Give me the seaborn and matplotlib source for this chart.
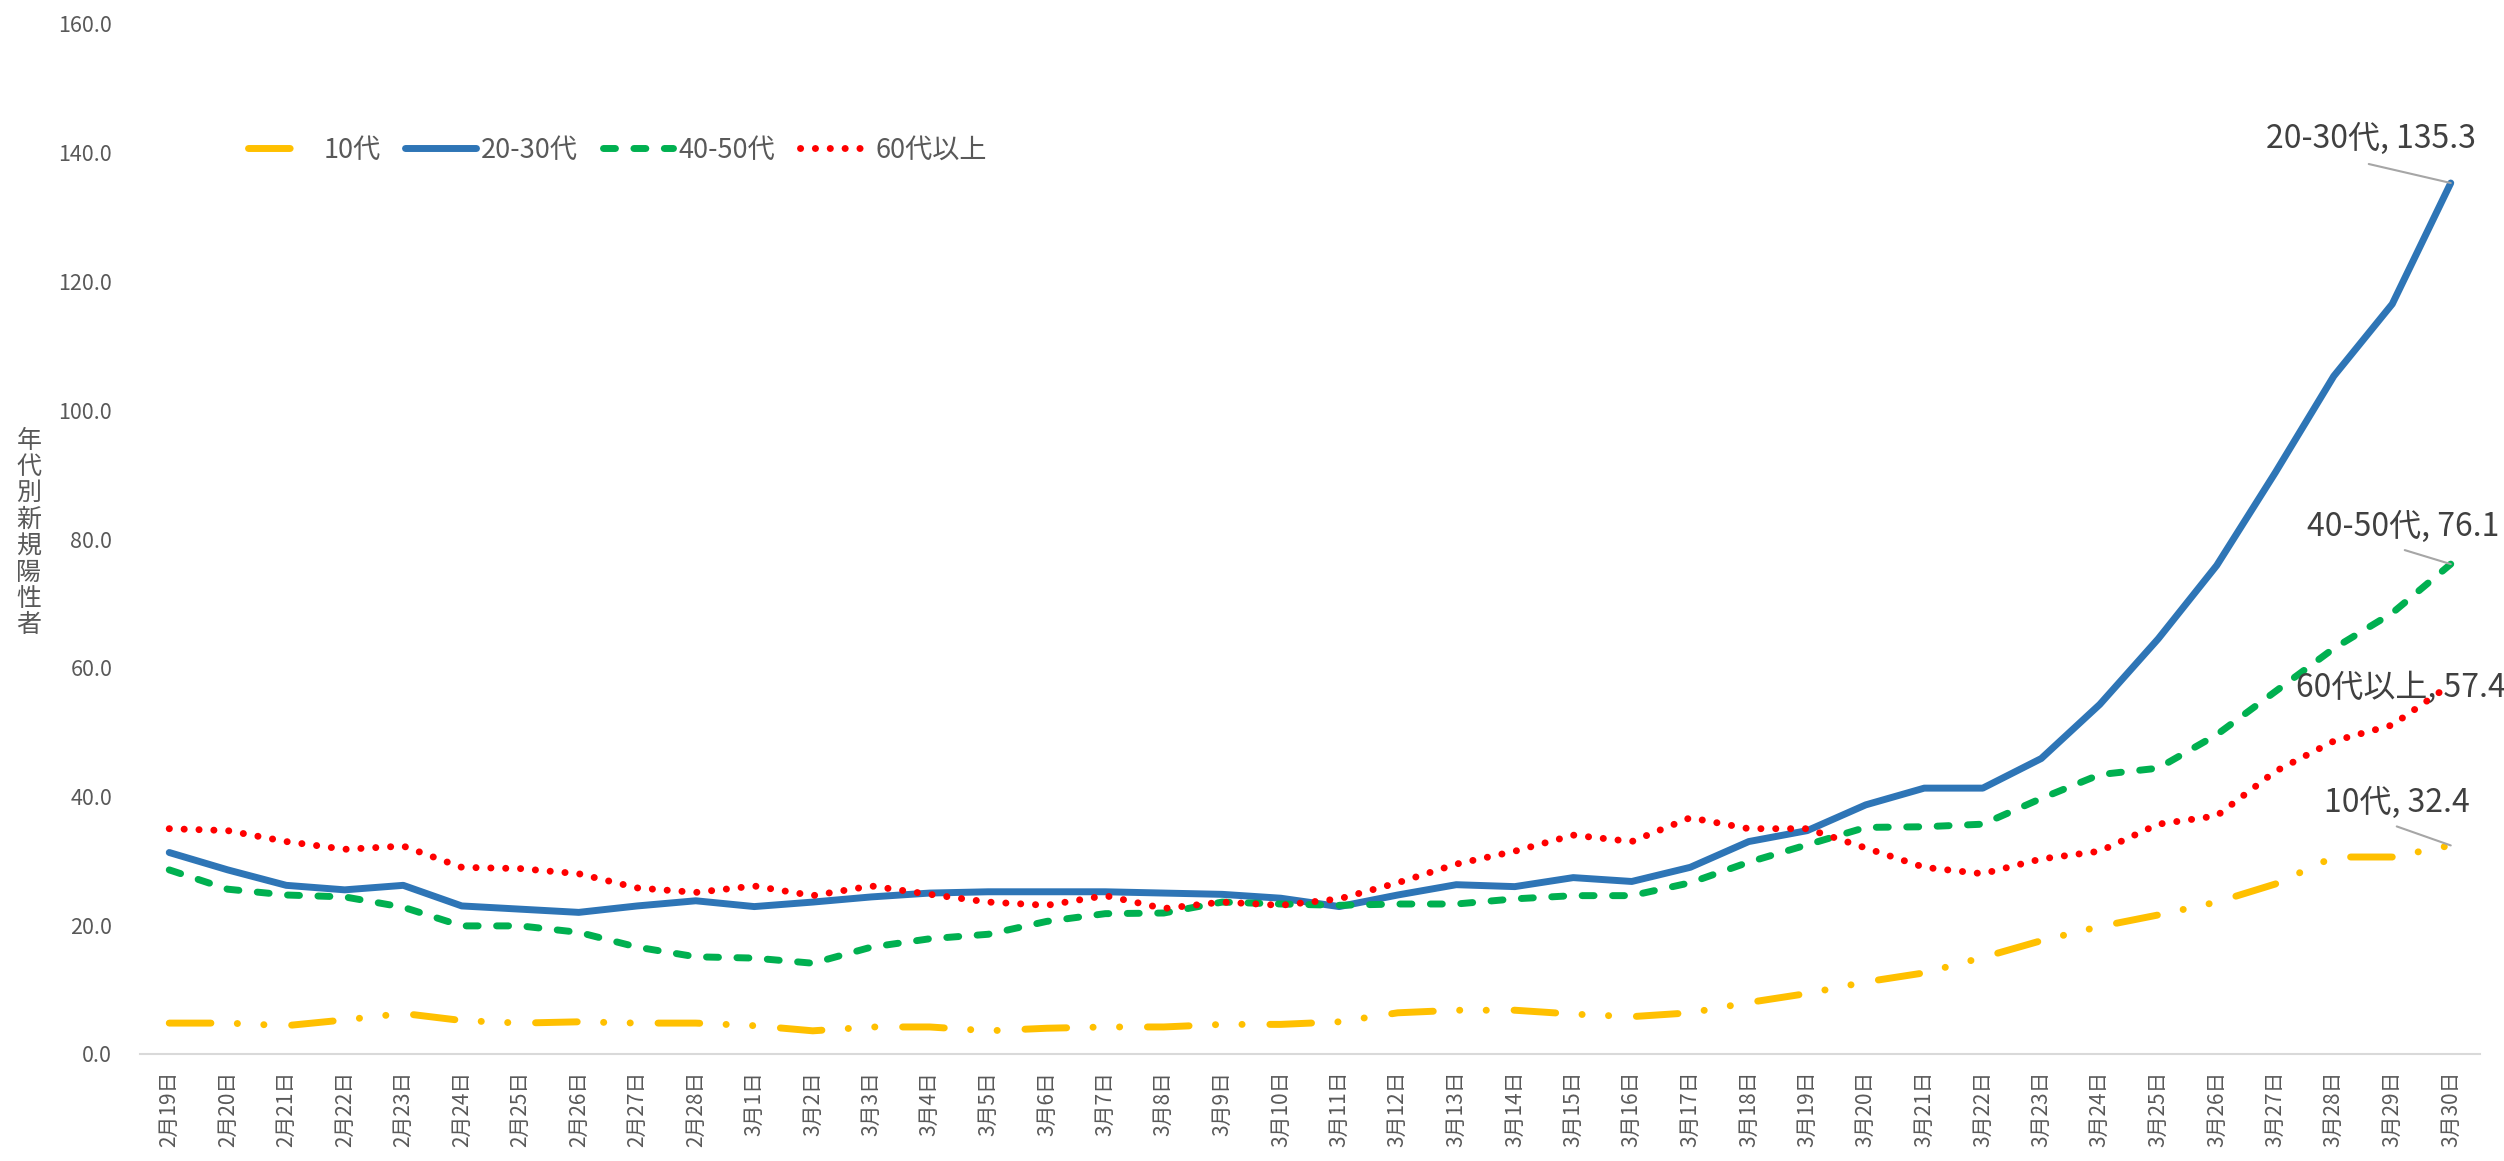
import numpy as np
import pandas as pd
import matplotlib
matplotlib.use("Agg")
import matplotlib.pyplot as plt
import seaborn as sns

dates = [f"2月{d}日" for d in range(19, 29)] + [f"3月{d}日" for d in range(1, 31)]

teens = [4.8, 4.8, 4.4, 5.3, 6.3, 5.2, 4.8, 5.0, 4.8, 4.8,
         4.4, 3.6, 4.2, 4.2, 3.6, 4.0, 4.2, 4.2, 4.6, 4.6,
         5.0, 6.4, 6.8, 6.8, 6.2, 5.8, 6.4, 8.0, 9.4, 11.2,
         12.6, 15.0, 17.6, 19.8, 21.6, 23.6, 26.4, 30.6, 30.6, 32.4]
age20_30 = [31.3, 28.6, 26.2, 25.5, 26.2, 23.0, 22.5, 22.0, 23.0, 23.8,
            22.9, 23.6, 24.4, 25.0, 25.2, 25.2, 25.2, 25.0, 24.8, 24.2,
            22.9, 24.7, 26.3, 26.0, 27.4, 26.8, 29.0, 33.0, 34.7, 38.7,
            41.3, 41.3, 45.9, 54.3, 64.5, 75.9, 90.3, 105.3, 116.5, 135.3]
age40_50 = [28.6, 25.6, 24.7, 24.4, 22.8, 19.9, 19.9, 18.9, 16.6, 15.1,
            14.9, 14.1, 16.6, 17.9, 18.6, 20.6, 21.8, 21.9, 23.6, 23.3,
            23.1, 23.3, 23.3, 24.1, 24.6, 24.6, 26.6, 29.8, 32.5, 35.2,
            35.3, 35.7, 39.7, 43.4, 44.4, 49.6, 56.3, 63.0, 68.5, 76.1]
age60_plus = [35.0, 34.7, 33.0, 31.8, 32.3, 29.0, 28.8, 28.0, 25.8, 25.1,
              26.1, 24.6, 26.1, 24.8, 23.6, 23.1, 24.6, 22.6, 23.6, 23.1,
              24.1, 26.6, 29.5, 31.5, 34.0, 33.0, 36.7, 35.0, 35.0, 32.0,
              29.0, 28.0, 30.3, 31.5, 35.7, 37.0, 43.9, 48.6, 51.1, 57.4]

series_names = ["10代", "20-30代", "40-50代", "60代以上"]
series_values = [teens, age20_30, age40_50, age60_plus]
colors = ["#FFC000", "#2E75B6", "#00B050", "#FF0000"]
styles = [(0, (30, 19, 0.1, 19, 0.1, 20)), "-", (0, (8.6, 13.3)), (0, (0.1, 10.6))]
ylabel_text = "年代別新規陽性者"

sns.set_theme(style="white")
plt.rcParams["font.family"] = ["Noto Sans CJK JP", "DejaVu Sans"]
plt.rcParams["lines.scale_dashes"] = False

fig = plt.figure(figsize=(25.04, 11.61), dpi=100)
ax = fig.add_axes([140 / 2504, 1 - 1054 / 1161, (2480 - 140) / 2504, (1054 - 24) / 1161])

x = np.arange(len(dates))
for name, vals, col, ls in zip(series_names, series_values, colors, styles):
    sns.lineplot(x=x, y=vals, ax=ax, color=col, linestyle=ls, lw=5, label=name,
                 sort=False, solid_capstyle="round", dash_capstyle="round")

ax.set_xlim(-0.5, len(dates) - 0.5)
ax.set_ylim(0, 160)
ax.set_yticks(np.arange(0, 161, 20))
ax.set_yticklabels([f"{v:.1f}" for v in np.arange(0, 161, 20)])
ax.set_xticks(x)
ax.set_xticklabels(dates, rotation=90)
ax.set_xticks(np.arange(-0.5, len(dates), 1), minor=True)
ax.tick_params(axis="x", which="major", length=0, pad=12, labelsize=15, labelcolor="#595959")
ax.tick_params(axis="x", which="minor", length=10, width=1.5, color="#d9d9d9", direction="out")
ax.tick_params(axis="y", length=0, pad=20, labelsize=15.5, labelcolor="#595959")
for s in ["top", "right", "left"]:
    ax.spines[s].set_visible(False)
ax.spines["bottom"].set_color("#d9d9d9")
ax.spines["bottom"].set_linewidth(1.5)
ax.grid(False)
ax.set_xlabel("")
ax.set_ylabel("")

fig.text(29 / 2504, 1 - 533 / 1161, "\n".join(ylabel_text), ha="center", va="center",
         fontsize=18, color="#595959", linespacing=1.02)

leg = ax.legend(loc="center left", bbox_to_anchor=(248 / 2504, 1 - 150 / 1161),
                bbox_transform=fig.transFigure, ncol=4, frameon=False, fontsize=19.5,
                handlelength=2.6, handletextpad=0.2, columnspacing=0.9,
                borderpad=0, borderaxespad=0)
for t in leg.get_texts():
    t.set_color("#595959")
leg.legend_handles[0].set_linestyle((0, (30, 40)))

# data labels on last points: (text offset px, leader start offset px)
label_offsets = [((-54, 43), (-54, 19)), ((-80, 44), (-82, 19)),
                 ((-48, 37), (-46, 14)), ((-50, -3), None)]
last = len(dates) - 1
for name, vals, (toff, loff) in zip(series_names, series_values, label_offsets):
    v = vals[-1]
    if loff is not None:
        ax.annotate("", xy=(last, v), xytext=(loff[0] * 0.72, loff[1] * 0.72),
                    textcoords="offset points",
                    arrowprops=dict(arrowstyle="-", color="#a6a6a6", lw=1.5,
                                    shrinkA=0, shrinkB=0))
    ax.annotate(f"{name}, {v:.1f}", xy=(last, v), xytext=(toff[0] * 0.72, toff[1] * 0.72),
                textcoords="offset points", ha="center", va="center",
                fontsize=23, color="#404040")

fig.savefig("out.png", dpi=100)
